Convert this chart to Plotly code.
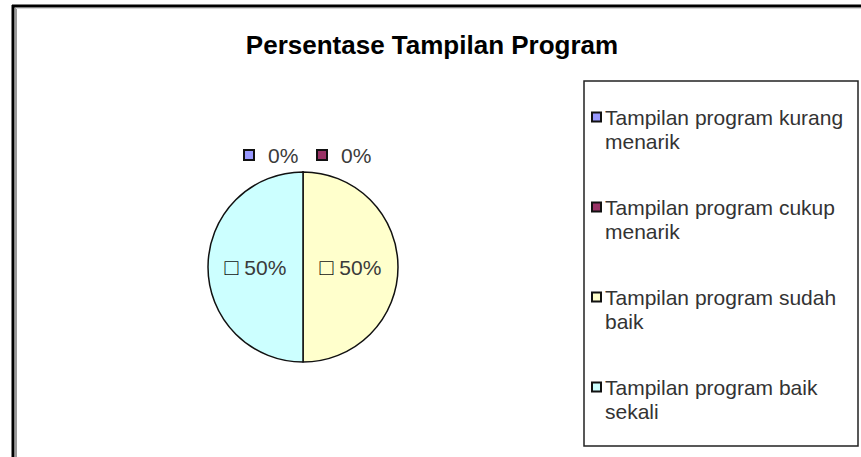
import plotly.graph_objects as go

W, H = 861, 457

# Survey categories, their counts and slice colours
categories = [
    "Tampilan program kurang menarik",
    "Tampilan program cukup menarik",
    "Tampilan program sudah baik",
    "Tampilan program baik sekali",
]
values = [0, 0, 1, 1]
colors = ["#9999FF", "#993366", "#FFFFCC", "#CCFFFF"]

FONT = "Liberation Sans, Arial, sans-serif"
TEXT_COLOR = "#3a3a3a"
total = sum(values)
percents = ["%d%%" % round(100 * v / total) for v in values]


def px(x):
    return x / W


def py(y):
    return 1 - y / H


# Empty slices get their label above the pie; the others carry it inside
positions = ["none" if v == 0 else "inside" for v in values]

fig = go.Figure(
    go.Pie(
        labels=categories,
        values=values,
        sort=False,
        direction="clockwise",
        rotation=0,
        marker=dict(colors=colors, line=dict(color="#111111", width=1.5)),
        textposition=positions,
        texttemplate="<b><span style='color:#111111;font-size:23px'>□</span></b> %{percent:.0%}",
        textfont=dict(family=FONT, size=21, color=TEXT_COLOR),
        insidetextorientation="horizontal",
        hoverinfo="label+percent",
        domain=dict(x=[px(208), px(398)], y=[py(362), py(172)]),
        showlegend=False,
    )
)

shapes = [
    # outer frame: heavy top and left edges
    dict(type="line", xref="paper", yref="paper", x0=px(12), x1=1, y0=py(6), y1=py(6),
         line=dict(color="#000000", width=3)),
    dict(type="line", xref="paper", yref="paper", x0=px(13), x1=px(13), y0=py(5), y1=0,
         line=dict(color="#000000", width=3)),
    dict(type="line", xref="paper", yref="paper", x0=px(16), x1=px(16), y0=py(8), y1=0,
         line=dict(color="#9a9a9a", width=2)),
    dict(type="line", xref="paper", yref="paper", x0=px(16), x1=1, y0=py(8.5), y1=py(8.5),
         line=dict(color="#d8d8d8", width=1)),
    # legend frame
    dict(type="rect", xref="paper", yref="paper", x0=px(584), x1=px(858), y0=py(446), y1=py(81),
         line=dict(color="#222222", width=1.5), fillcolor="rgba(0,0,0,0)"),
]
annotations = []


def key_square(cx, cy, color, size=10):
    return dict(type="rect", xref="paper", yref="paper",
                x0=px(cx - size / 2), x1=px(cx + size / 2),
                y0=py(cy + size / 2), y1=py(cy - size / 2),
                line=dict(color="#111111", width=2), fillcolor=color)


# Labels for the empty slices, side by side above the pie
zero_idx = [i for i, v in enumerate(values) if v == 0]
zero_key_x = [249, 322]
for k, i in enumerate(zero_idx):
    kx = zero_key_x[k]
    shapes.append(key_square(kx, 155, colors[i], 10))
    annotations.append(dict(
        xref="paper", yref="paper", x=px(kx + 17), y=py(155), xanchor="left", yanchor="middle",
        text=percents[i], showarrow=False, font=dict(family=FONT, size=21, color=TEXT_COLOR),
    ))

# Legend: key square plus category name wrapped after the third word
row0, row_step, line_step = 117, 90, 24.5
for i, name in enumerate(categories):
    words = name.split(" ")
    lines = [" ".join(words[:3]), " ".join(words[3:])]
    cy = row0 + i * row_step
    shapes.append(key_square(596.5, cy, colors[i], 9))
    for j, line in enumerate(lines):
        annotations.append(dict(
            xref="paper", yref="paper", x=px(603), y=py(cy + j * line_step),
            xanchor="left", yanchor="middle", text=line, showarrow=False,
            font=dict(family=FONT, size=21, color="#333333"),
        ))

fig.update_layout(
    width=W,
    height=H,
    margin=dict(l=0, r=0, t=0, b=0),
    paper_bgcolor="white",
    plot_bgcolor="white",
    showlegend=False,
    title=dict(
        text="<b>Persentase Tampilan Program</b>",
        x=px(432),
        xanchor="center",
        y=py(45),
        yanchor="middle",
        font=dict(family=FONT, size=26, color="#000000"),
    ),
    shapes=shapes,
    annotations=annotations,
)

fig.write_html("out.html")
